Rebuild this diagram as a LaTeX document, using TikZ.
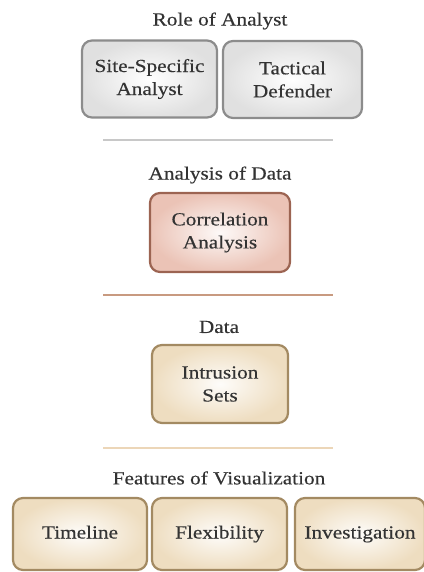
\documentclass[tikz,border=0pt]{standalone}
\usepackage{fontspec}
\setmainfont{Liberation Serif}[FakeStretch=1.15, FakeBold=0.3]
\usetikzlibrary{positioning}

\definecolor{txtgray}{HTML}{333333}
\definecolor{greyline}{HTML}{8C8C8C}
\definecolor{greyfill}{HTML}{E0E0E0}
\definecolor{redline}{HTML}{9C6452}
\definecolor{redfill}{HTML}{EBC3B6}
\definecolor{tanline}{HTML}{A38A62}
\definecolor{tanfill}{HTML}{EEDDC0}
\definecolor{rule1}{HTML}{C8C8C8}
\definecolor{rule2}{HTML}{C89A80}
\definecolor{rule3}{HTML}{ECD6B8}

\begin{document}
\begin{tikzpicture}[x=1pt,y=1pt,
                    every node/.style = {align=center, text=txtgray,
                    font=\fontsize{18.5}{23}\selectfont},
                    box/.style = {rectangle, rounded corners=10pt,
                    line width=2.2pt, inner sep=0pt},
                    greybox/.style = {box, draw=greyline,
                    inner color=white, outer color=greyfill},
                    redbox/.style = {box, draw=redline,
                    inner color=white!90!redfill, outer color=redfill},
                    tanbox/.style = {box, draw=tanline,
                    inner color=white!92!tanfill, outer color=tanfill},
                    featbox/.style = {tanbox, minimum height=72pt,
                    text height=13pt, text depth=4pt},
                    heading/.style = {font=\fontsize{18.5}{21}\selectfont},
                    divider/.style = {line width=2pt}]
  \useasboundingbox (0,0) rectangle (423,-572);

  % role of analyst
  \node[heading] (role) at (220,-21) {Role of Analyst};
  \node[greybox, minimum width=135pt, minimum height=77pt]
    (site) at (149.5,-79) {Site-Specific\\Analyst};
  \node[greybox, minimum width=139pt, minimum height=77pt]
    (tact) at (292.5,-79.5) {Tactical\\Defender};

  \coordinate (r1a) at (103,-140);
  \coordinate (r1b) at (333,-140);
  \draw[divider, rule1] (r1a) -- (r1b);

  % analysis of data
  \node[heading] (anal) at (220,-175) {Analysis of Data};
  \node[redbox, minimum width=140pt, minimum height=79pt]
    (corr) at (220,-232.5) {Correlation\\Analysis};

  \coordinate (r2a) at (103,-295);
  \coordinate (r2b) at (333,-295);
  \draw[divider, rule2] (r2a) -- (r2b);

  % data
  \node[heading] (data) at (219,-327) {Data};
  \node[tanbox, minimum width=136pt, minimum height=78pt]
    (intr) at (220,-384) {Intrusion\\Sets};

  \coordinate (r3a) at (103,-448);
  \coordinate (r3b) at (333,-448);
  \draw[divider, rule3] (r3a) -- (r3b);

  % features of visualization
  \node[heading] (feat) at (219,-478) {Features of Visualization};
  \node[featbox, minimum width=134pt] (time) at (80,-534) {Timeline};
  \node[featbox, minimum width=135pt] (flex) at (219.5,-534) {Flexibility};
  \node[featbox, minimum width=130pt] (inve) at (360,-534) {Investigation};
\end{tikzpicture}
\end{document}
